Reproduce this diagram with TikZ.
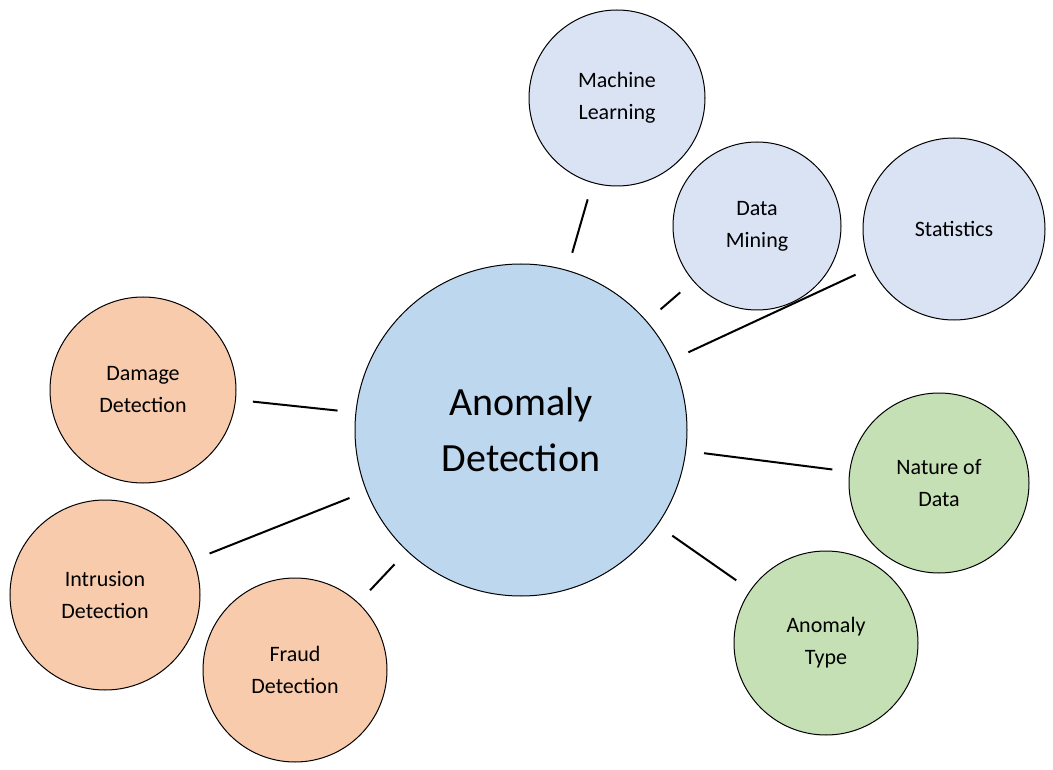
\documentclass[tikz,border=0pt]{standalone}
\usepackage{fontspec}
\setmainfont{Carlito}
\definecolor{lblue}{HTML}{DAE3F3}
\definecolor{cblue}{HTML}{BDD7EE}
\definecolor{lgreen}{HTML}{C5E0B4}
\definecolor{lorange}{HTML}{F8CBAD}
\begin{document}
\begin{tikzpicture}[x=1pt,y=-1pt,
  bub/.style={circle,draw=black,line width=1pt,minimum size=#1,inner sep=0pt,align=center,font=\fontsize{22}{32}\selectfont},
  con/.style={line width=2pt,shorten <=18pt,shorten >=17pt}]
\useasboundingbox (0,0) rectangle (1053,770);
\node[bub=332pt,fill=cblue,font=\fontsize{40}{56}\selectfont] (c) at (521,430) {Anomaly\\Detection};
\node[bub=176pt,fill=lblue] (ml) at (617,98) {Machine\\Learning};
\node[bub=168pt,fill=lblue] (dm) at (757,226) {Data\\Mining};
\node[bub=182pt,fill=lblue] (st) at (954,229) {Statistics};
\node[bub=180pt,fill=lgreen] (nd) at (939,483) {Nature of\\Data};
\node[bub=184pt,fill=lgreen] (at) at (826,643) {Anomaly\\Type};
\node[bub=186pt,fill=lorange] (dd) at (143,390) {Damage\\Detection};
\node[bub=190pt,fill=lorange] (id) at (105,595) {Intrusion\\Detection};
\node[bub=184pt,fill=lorange] (fd) at (295,670) {Fraud\\Detection};
\foreach \t in {ml,dm,st,nd,at,dd,id,fd} \draw[con] (c) -- (\t);
\end{tikzpicture}
\end{document}
